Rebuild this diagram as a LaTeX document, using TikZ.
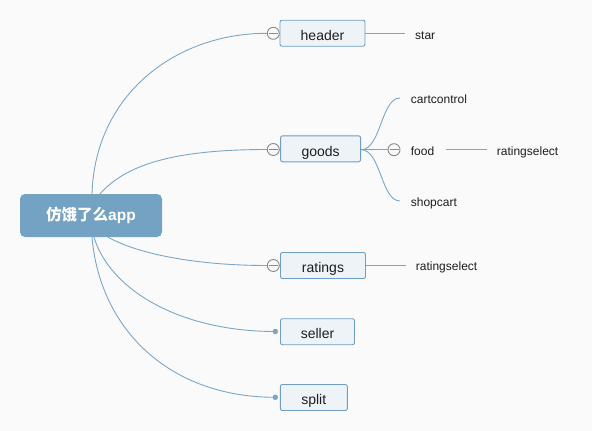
\documentclass[tikz,border=0pt]{standalone}
\usepackage{fontspec}
\setmainfont{Liberation Sans}
\newfontfamily\cjk{Noto Sans CJK SC}
\definecolor{bg}{HTML}{FAFAFA}
\definecolor{linkc}{HTML}{7BA7C7}
\definecolor{boxdraw}{HTML}{6F9DC3}
\definecolor{boxfill}{HTML}{EEF3F7}
\definecolor{rootfill}{HTML}{74A2C2}
\definecolor{txt}{HTML}{1E1E1E}
\definecolor{collc}{HTML}{8A8A8A}
\tikzset{
  link/.style={draw=linkc, line width=0.9pt},
  rootbox/.style={fill=rootfill, rounded corners=5pt, minimum width=142pt, minimum height=43pt, inner sep=0pt, text=white, font=\fontsize{15.5}{18}\selectfont\bfseries},
  topic/.style={draw=boxdraw, fill=boxfill, line width=0.9pt, rounded corners=2pt, minimum height=26pt, inner sep=0pt, text height=14.4pt, text depth=0pt, text=txt, font=\fontsize{14}{16}\selectfont},
  leaf/.style={anchor=west, inner sep=0pt, text height=8.6pt, text depth=0pt, text=txt, font=\fontsize{12}{14}\selectfont},
  collapse/.style={circle, draw=collc, fill=bg, line width=0.9pt, minimum size=12pt, inner sep=0pt,
    path picture={\draw[collc, line width=0.9pt] ([xshift=-4.5pt]path picture bounding box.center) -- ([xshift=4.5pt]path picture bounding box.center);}},
  dotend/.style={circle, fill=linkc, minimum size=5.5pt, inner sep=0pt},
}
\begin{document}
\begin{tikzpicture}[x=1pt, y=-1pt]
\fill[bg] (0,0) rectangle (592,431);
\useasboundingbox (0,0) rectangle (592,431);

% root
\node[rootbox] (root) at (91,215.5) {{\cjk\bfseries 仿饿了么}app};

% main topics
\node[topic, minimum width=85pt] (header) at (322.5,33.2) {header};
\node[topic, minimum width=80pt] (goods) at (320.6,148.8) {goods};
\node[topic, minimum width=85pt] (ratings) at (323,265.5) {ratings};
\node[topic, minimum width=74pt] (seller) at (317.5,331.7) {seller};
\node[topic, minimum width=67pt] (split) at (313.8,397.5) {split};

% collapse markers / dots
\node[collapse] (hc) at (273.3,33.3) {};
\node[collapse] (gc) at (273.3,149.5) {};
\node[collapse] (rc) at (273.3,265.5) {};
\node[dotend] (sd) at (275.3,331.5) {};
\node[dotend] (pd) at (275.3,397.3) {};

% leaves
\node[leaf] (star) at (415,35) {star};
\node[leaf] (cart) at (410.7,99) {cartcontrol};
\node[leaf] (food) at (410.7,150.7) {food};
\node[collapse] (fc) at (394,149.7) {};
\node[leaf] (frs) at (496.7,150.7) {ratingselect};
\node[leaf] (shop) at (410.7,202) {shopcart};
\node[leaf] (rrs) at (415.7,266) {ratingselect};

% connectors from root
\draw[link] ([xshift=1pt]root.north) .. controls (95,95) and (175,33.3) .. (hc.west);
\draw[link] ([xshift=9pt]root.north) .. controls (125,166) and (170,149.5) .. (gc.west);
\draw[link] ([xshift=17pt]root.south) .. controls (140,255) and (200,265.5) .. (rc.west);
\draw[link] ([xshift=3pt]root.south) .. controls (110,290) and (180,331.5) .. (sd.center);
\draw[link] ([xshift=1pt]root.south) .. controls (100,330) and (170,397.3) .. (pd.center);

% connectors to leaves
\draw[link] (header.east) -- ([xshift=-10pt]star.west |- header.east);
\draw[link] (goods.east |- fc.center) .. controls (381,149.7) and (381,98) .. ([xshift=-10.7pt]cart.west |- 0,98);
\draw[link] (goods.east |- fc.center) -- (fc.west);
\draw[link] (goods.east |- fc.center) .. controls (381,149.7) and (381,201) .. ([xshift=-10.7pt]shop.west |- 0,201);
\draw[link] ([xshift=12pt]food.east |- fc.center) -- ([xshift=-10pt]frs.west |- fc.center);
\draw[link] (ratings.east) -- ([xshift=-10pt]rrs.west |- ratings.east);
\end{tikzpicture}
\end{document}
